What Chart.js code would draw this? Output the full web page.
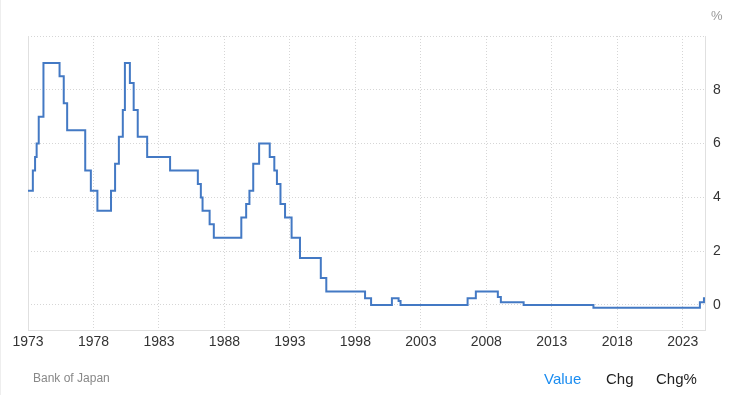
<!DOCTYPE html>
<html>
<head>
<meta charset="utf-8">
<script src="https://cdn.jsdelivr.net/npm/chart.js@4/dist/chart.umd.min.js"></script>
<style>
    body { margin: 0; background: #fff; font-family: "Liberation Sans", Arial, sans-serif; }
    #wrap { position: relative; width: 729px; height: 395px; border-left: 1px solid #eee; box-sizing: border-box; }
    #rate-chart { position: absolute; left: 0; top: 0; }
    .lbl { position: absolute; white-space: nowrap; }
</style>
</head>
<body>
<div id="wrap">
    <canvas id="rate-chart" width="729" height="395"></canvas>
    <div class="lbl" style="left:710px; top:8px; font-size:13px; color:#999;">%</div>
    <div class="lbl" style="left:32px; top:371px; font-size:12px; color:#888;">Bank of Japan</div>
    <div class="lbl" style="left:543px; top:370px; font-size:15px; color:#1a8cf0;">Value</div>
    <div class="lbl" style="left:605px; top:370px; font-size:15px; color:#222;">Chg</div>
    <div class="lbl" style="left:655px; top:370px; font-size:15px; color:#222;">Chg%</div>
</div>
<script>
// decimal year of each rate change, and the new rate (%)
const dates = [1973.0, 1973.37, 1973.54, 1973.66, 1973.82, 1974.18, 1975.41, 1975.73, 1975.99, 1977.37,
    1977.80, 1978.30, 1979.34, 1979.65, 1979.94, 1980.24, 1980.40, 1980.78, 1981.07, 1981.38,
    1982.10, 1983.85, 1985.97, 1986.20, 1986.33, 1986.87, 1987.19, 1989.29, 1989.66, 1989.91,
    1990.20, 1990.65, 1991.46, 1991.81, 1992.01, 1992.28, 1992.63, 1993.13, 1993.77, 1995.36,
    1995.78, 1998.74, 1999.20, 2000.79, 2001.30, 2001.45, 2006.57, 2007.20, 2008.88, 2009.11,
    2010.85, 2016.18, 2024.31, 2024.62, 2024.70];
const rates = [4.25, 5, 5.5, 6, 7, 9, 8.5, 7.5, 6.5, 5,
    4.25, 3.5, 4.25, 5.25, 6.25, 7.25, 9, 8.25, 7.25, 6.25,
    5.5, 5, 4.5, 4, 3.5, 3, 2.5, 3.25, 3.75, 4.25,
    5.25, 6, 5.5, 5, 4.5, 3.75, 3.25, 2.5, 1.75, 1,
    0.5, 0.25, 0, 0.25, 0.15, 0, 0.25, 0.5, 0.3, 0.1,
    0, -0.1, 0.1, 0.25, 0.25];
const yearTicks = [1973, 1978, 1983, 1988, 1993, 1998, 2003, 2008, 2013, 2018, 2023];
const rateTicks = [0, 2, 4, 6, 8, 10];

const points = dates.map((d, i) => ({ x: d, y: rates[i] }));
const gridDots = { color: '#d6d6d6', lineWidth: 1, drawTicks: false };
const axisLine = { display: true, color: '#e0e0e0', dash: [1, 2] };

const ctx = document.getElementById('rate-chart');
new Chart(ctx, {
    type: 'line',
    data: {
        datasets: [{
            data: points,
            stepped: true,
            borderColor: '#4379c4',
            borderWidth: 2,
            pointRadius: 0,
            fill: false
        }]
    },
    options: {
        responsive: false,
        animation: false,
        layout: { padding: { left: 27, top: 36, right: 0, bottom: 0 } },
        plugins: { legend: { display: false }, tooltip: { enabled: false } },
        scales: {
            x: {
                type: 'linear',
                min: 1973,
                max: 2024.7,
                afterBuildTicks: s => { s.ticks = yearTicks.map(v => ({ value: v })); },
                afterFit: s => { s.height = 65; },
                grid: gridDots,
                border: axisLine,
                ticks: {
                    padding: 4,
                    color: '#333',
                    font: { family: 'Liberation Sans', size: 14 },
                    maxRotation: 0,
                    callback: v => String(v)
                }
            },
            y: {
                position: 'right',
                min: -0.93,
                max: 10,
                afterBuildTicks: s => { s.ticks = rateTicks.map(v => ({ value: v })); },
                afterFit: s => { s.width = 25; },
                grid: gridDots,
                border: axisLine,
                ticks: {
                    padding: 8,
                    color: '#333',
                    font: { family: 'Liberation Sans', size: 14 },
                    callback: v => (v === 10 ? '' : String(v))
                }
            },
            yLeft: {
                position: 'left',
                min: -0.93,
                max: 10,
                afterFit: s => { s.width = 0; },
                grid: { display: false },
                border: { display: true, color: '#e0e0e0' },
                ticks: { display: false }
            }
        }
    }
});
</script>
</body>
</html>
